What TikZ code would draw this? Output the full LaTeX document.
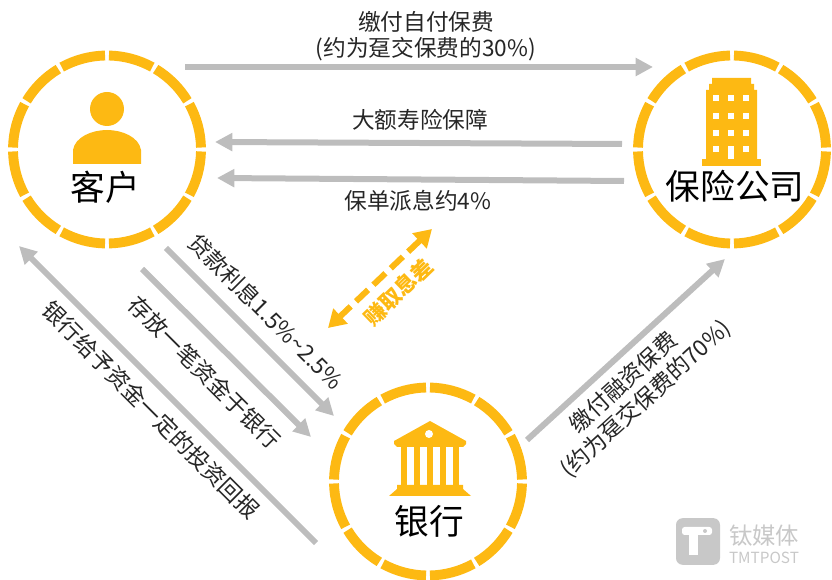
\documentclass[tikz,border=0pt]{standalone}
\usepackage{fontspec}
\setmainfont{Noto Sans CJK SC}
\usetikzlibrary{arrows.meta,calc,positioning}
\definecolor{ringyellow}{HTML}{FDB913}
\definecolor{flowgray}{HTML}{BDBDBD}
\definecolor{markgray}{HTML}{C8C8C8}
\tikzset{
        party/.style={
            circle,
            inner sep=0pt,
            minimum size=188pt*0.75
        },
        partylabel/.style={
            inner sep=0pt,
            font=\fontsize{26}{30}\selectfont
        },
        flow/.style={
            flowgray,
            line width=4.5pt,
            -{Triangle[length=13pt,width=13pt]}
        },
        gain/.style={
            ringyellow,
            line width=4.5pt,
            dash pattern=on 12.5pt off 5.5pt,
            {Triangle[length=13pt,width=15pt]}-{Triangle[length=13pt,width=15pt]}
        },
        flowlabel/.style={
            inner sep=0pt,
            text=black!85,
            font=\fontsize{17}{20}\selectfont
        }
    }
\newcommand{\ringsegs}[1]{
    \foreach \ang in {0,30,...,330}
        \draw[ringyellow,line width=7.4pt]
            ($(#1)+(-\ang-1.2:94)$) arc[start angle=\ang+1.2,end angle=\ang+28.8,radius=70.5pt];
}
\begin{document}
\begin{tikzpicture}[x=0.75pt,y=-0.75pt]
        \useasboundingbox (0,0) rectangle (832,580);

        \node[party] (client) at (107,149.5) {};
        \node[party] (insurer) at (732,149.5) {};
        \node[party] (bank) at (428,481.5) {};
        \ringsegs{client}
        \ringsegs{insurer}
        \ringsegs{bank}

        % person
        \fill[ringyellow] (107,109) circle[radius=17];
        \fill[ringyellow] (73,164) -- (73,150) .. controls (75,137) and (92,130) .. (107,130)
            .. controls (122,130) and (139,137) .. (141,150) -- (141,164) -- cycle;

        % building
        \fill[ringyellow] (702,159) rectangle (761,166);
        \fill[ringyellow] (706,159) -- (706,90) -- (709,90) -- (709,84) -- (712,84) -- (712,78)
            -- (751,78) -- (751,84) -- (754,84) -- (754,90) -- (757,90) -- (757,159) -- cycle;
        \foreach \wy in {98,116,133,149}
            \foreach \wx in {716,731,746}
                \fill[white] (\wx-3.2,\wy-3.2) rectangle (\wx+3.2,\wy+3.2);
        \fill[white] (728,146) rectangle (734,159);

        % bank
        \fill[ringyellow] (430,421) -- (466,441) -- (466,444) -- (463,447) -- (397,447) -- (394,444) -- (394,441) -- cycle;
        \fill[white] (429,434) circle[radius=4];
        \foreach \cx in {404,417,430,443,456}
            \fill[ringyellow] (\cx-3.3,447) rectangle (\cx+3.3,485);
        \fill[ringyellow] (397,485) -- (463,485) -- (463,489) -- (471,496) -- (389,496) -- (397,489) -- cycle;

        \node[partylabel] (clientname) at (105,187) {客户};
        \node[partylabel] (insurername) at (735,186) {保险公司};
        \node[partylabel] (bankname) at (429,521) {银行};

        \coordinate (selfpayS) at (185,67);
        \coordinate (selfpayE) at (653,67);
        \coordinate (coverS) at (622,144);
        \coordinate (coverE) at (215,142);
        \coordinate (divS) at (624,181);
        \coordinate (divE) at (217,178);
        \coordinate (interestS) at (166,248);
        \coordinate (interestE) at (334,416);
        \coordinate (depositS) at (142,269);
        \coordinate (depositE) at (311,437);
        \coordinate (returnS) at (316,543);
        \coordinate (returnE) at (19,246);
        \coordinate (loanS) at (527,440);
        \coordinate (loanE) at (725,259);
        \coordinate (gainS) at (432,229);
        \coordinate (gainE) at (328,328);

        \draw[flow] (selfpayS) -- (selfpayE);
        \draw[flow] (coverS) -- (coverE);
        \draw[flow] (divS) -- (divE);
        \draw[flow] (interestS) -- (interestE);
        \draw[flow] (depositS) -- (depositE);
        \draw[flow] (returnS) -- (returnE);
        \draw[flow] (loanS) -- (loanE);
        \draw[gain] (gainS) -- (gainE);

        \node[flowlabel] (selfpay) at (426,22) {缴付自付保费};
        \node[flowlabel] (selfpaynote) at (426,49) {(约为趸交保费的30\%)};
        \node[flowlabel] (cover) at (420,120) {大额寿险保障};
        \node[flowlabel] (div) at (418,201) {保单派息约4\%};
        \node[flowlabel,rotate=-45] (interest) at (266,312) {贷款利息1.5\%\textasciitilde2.5\%};
        \node[flowlabel,rotate=-45] (deposit) at (205,372) {存放一笔资金于银行};
        \node[flowlabel,rotate=-45] (return) at (151,410) {银行给予资金一定的投资回报};
        \node[flowlabel,rotate=42.4] (loan) at (623,382) {缴付融资保费};
        \node[flowlabel,rotate=42.4] (loannote) at (646,399) {(约为趸交保费的70\%)};
        \node[flowlabel,rotate=44,text=ringyellow,font=\fontsize{16}{18}\selectfont\bfseries] (spread) at (398,292) {赚取息差};

        % watermark
        \node[fill=markgray,rounded corners=5pt,minimum width=33pt,minimum height=35pt,inner sep=0pt] (logo) at (698,541.5) {};
        \fill[white,rounded corners=2pt] (682,527) rectangle (712,535);
        \fill[white] (689,530) rectangle (698,555);
        \fill[markgray] (705,531) circle[radius=2];
        \node[inner sep=0pt,text=markgray,font=\fontsize{17.5}{20}\selectfont] (markcn) at (764,536) {钛媒体};
        \node[inner sep=0pt,text=markgray,font=\fontsize{11.5}{14}\selectfont] (marken) at (764,558) {TMTPOST};

    \end{tikzpicture}
\end{document}
